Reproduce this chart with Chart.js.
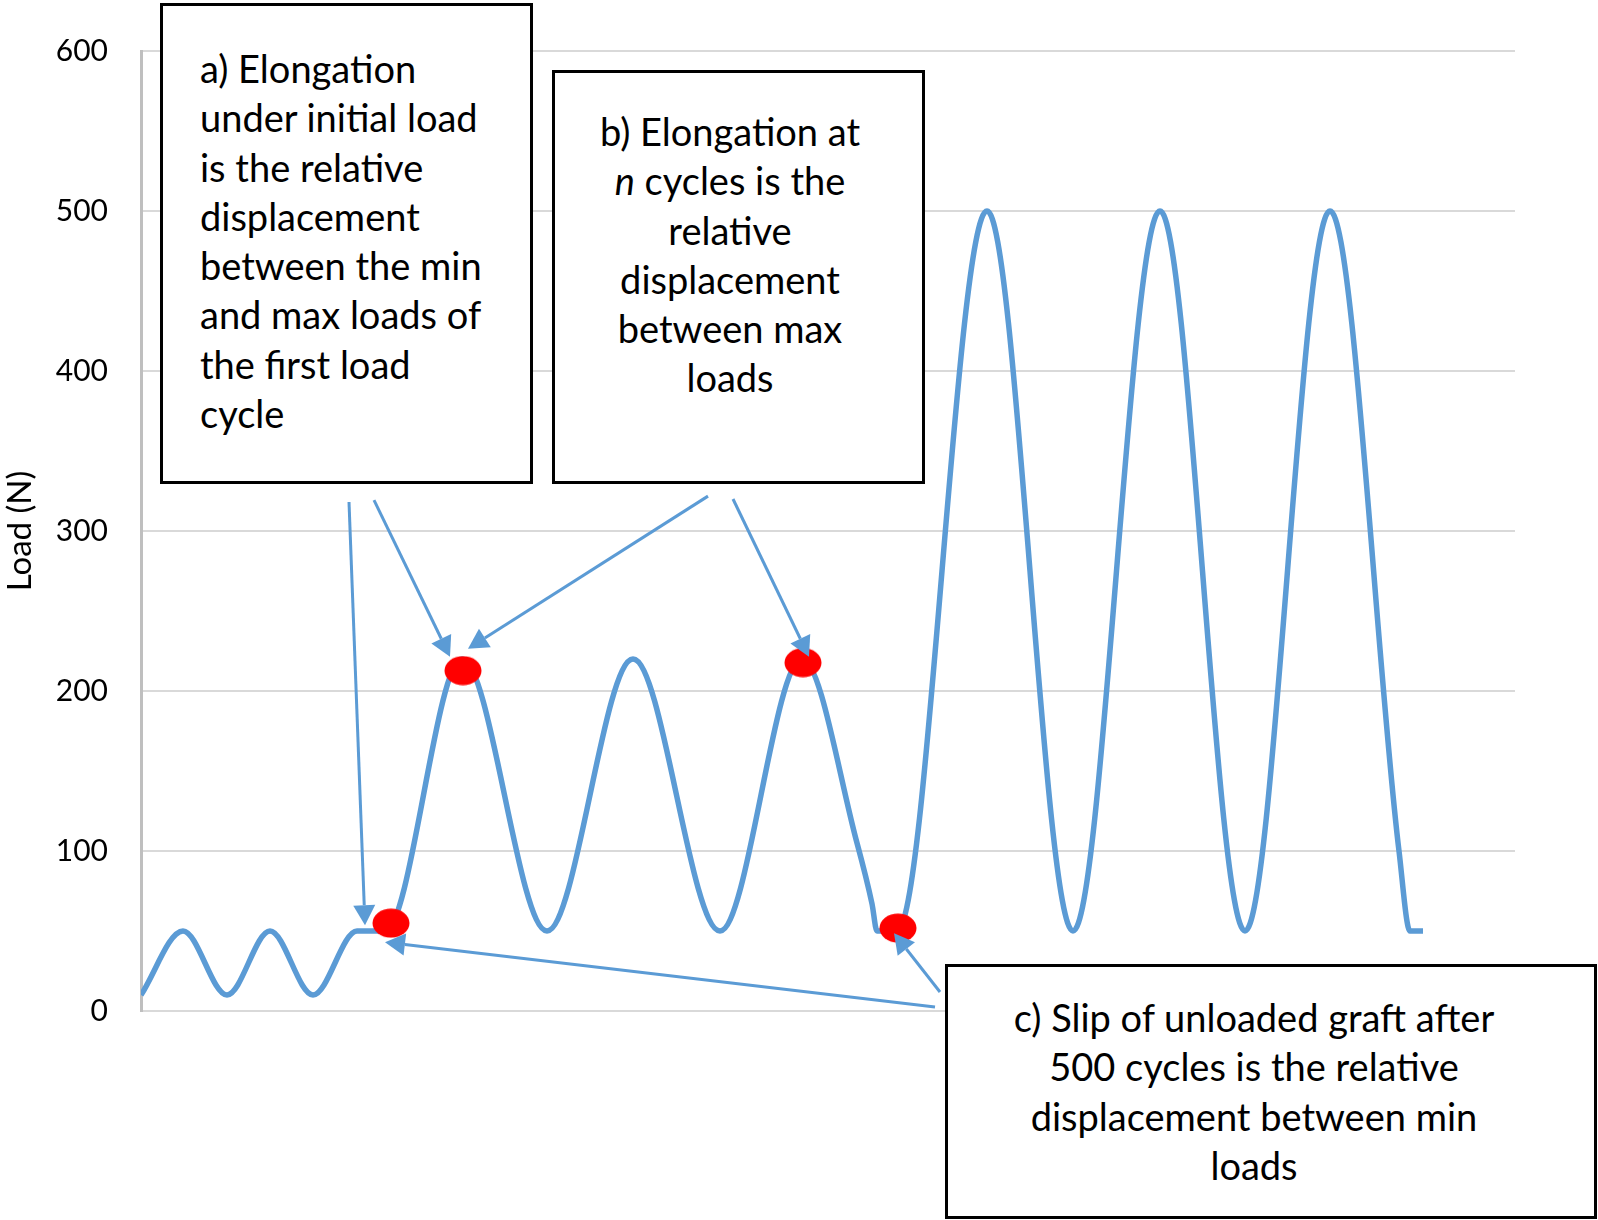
<!DOCTYPE html>
<html>
<head>
<meta charset="utf-8">
<script src="https://cdn.jsdelivr.net/npm/chart.js@4.4.1/dist/chart.umd.min.js"></script>
<style>
  html, body { margin: 0; padding: 0; background: #fff; }
  #wrap { position: relative; width: 1598px; height: 1220px; }
  .note {
    position: absolute;
    box-sizing: border-box;
    border: 3px solid #000;
    background: #fff;
    font-family: Lato, sans-serif;
    font-size: 38px;
    line-height: 49.3px;
    color: #000;
    white-space: nowrap;
  }
  #noteA { left: 160px; top: 3px; width: 373px; height: 481px; padding: 38px 0 0 37px; text-align: left; }
  #noteB { left: 552px; top: 70px; width: 373px; height: 414px; padding: 34px 25px 0 8px; text-align: center; }
  #noteC { left: 945px; top: 964px; width: 652px; height: 255px; padding: 26px 42px 0 8px; text-align: center; }
</style>
</head>
<body>
<div id="wrap">
  <canvas id="loadChart" width="1598" height="1220"></canvas>
  <div class="note" id="noteA">a) Elongation<br>under initial load<br>is the relative<br>displacement<br>between the min<br>and max loads of<br>the first load<br>cycle</div>
  <div class="note" id="noteB">b) Elongation at<br><i>n</i> cycles is the<br>relative<br>displacement<br>between max<br>loads</div>
  <div class="note" id="noteC">c) Slip of unloaded graft after<br>500 cycles is the relative<br>displacement between min<br>loads</div>
</div>
<script>
// Load trace (time in arbitrary units, load in N)
const time = [0, 4.2, 8.6, 12.9, 17.2, 21.6, 24.4, 32.1, 40.6, 49.2, 57.9,
    66.1, 71.6, 73.1, 73.6, 75.6, 84.6, 93.2, 101.9,
    110.4, 118.9, 125.8, 126.9, 128.2];
const load = [10, 50, 10, 50, 10, 50, 50, 220, 50, 220, 50,
    220, 105, 67, 50, 50, 500, 50, 500,
    50, 500, 100, 50, 50];

// Red markers
const markTime = [25.0, 32.2, 66.2, 75.7];
const markLoad = [54.9, 212.7, 217.7, 51.8];

// Annotation arrows (tail -> tip), in data units
const arrowFrom = [[20.8, 318.1], [23.3, 319.3], [56.7, 321.8], [59.2, 320.0], [79.4, 2.5], [79.9, 11.9]];
const arrowTo = [[22.4, 53.6], [30.9, 221.4], [32.7, 226.4], [66.8, 221.4], [24.4, 43.0], [75.3, 48.6]];

function makeDot() {
    const c = document.createElement('canvas');
    c.width = 38;
    c.height = 30;
    const g = c.getContext('2d');
    g.fillStyle = '#ff0000';
    g.beginPath();
    g.ellipse(19, 15, 18.5, 14.5, 0, 0, Math.PI * 2);
    g.fill();
    return c;
}

const arrowPlugin = {
    id: 'arrows',
    afterDatasetsDraw(chart) {
        const { ctx } = chart;
        const xs = chart.scales.x;
        const ys = chart.scales.y;
        ctx.save();
        ctx.strokeStyle = '#5b9bd5';
        ctx.fillStyle = '#5b9bd5';
        ctx.lineWidth = 3;
        for (let i = 0; i < arrowFrom.length; i++) {
            const x1 = xs.getPixelForValue(arrowFrom[i][0]);
            const y1 = ys.getPixelForValue(arrowFrom[i][1]);
            const x2 = xs.getPixelForValue(arrowTo[i][0]);
            const y2 = ys.getPixelForValue(arrowTo[i][1]);
            const ang = Math.atan2(y2 - y1, x2 - x1);
            const bx = x2 - 20 * Math.cos(ang);
            const by = y2 - 20 * Math.sin(ang);
            ctx.beginPath();
            ctx.moveTo(x1, y1);
            ctx.lineTo(bx, by);
            ctx.stroke();
            ctx.beginPath();
            ctx.moveTo(x2, y2);
            ctx.lineTo(bx + 11 * Math.sin(ang), by - 11 * Math.cos(ang));
            ctx.lineTo(bx - 11 * Math.sin(ang), by + 11 * Math.cos(ang));
            ctx.closePath();
            ctx.fill();
        }
        ctx.restore();
    }
};

const ctx = document.getElementById('loadChart').getContext('2d');
const chart = new Chart(ctx, {
    type: 'line',
    data: {
        datasets: [{
            data: markTime.map((t, i) => ({ x: t, y: markLoad[i] })),
            showLine: false,
            pointStyle: makeDot(),
            pointRadius: 18,
        }, {
            data: time.map((t, i) => ({ x: t, y: load[i] })),
            borderColor: '#5b9bd5',
            borderWidth: 5.5,
            pointRadius: 0,
            fill: false,
            cubicInterpolationMode: 'monotone',
        }],
    },
    options: {
        responsive: false,
        animation: false,
        events: [],
        layout: { padding: { left: 0, top: 49, right: 83, bottom: 209 } },
        plugins: { legend: { display: false }, tooltip: { enabled: false } },
        scales: {
            x: { type: 'linear', min: 0, max: 137.4, display: false },
            y: {
                min: 0,
                max: 600,
                ticks: { stepSize: 100, padding: 33, color: '#000', font: { family: 'Lato', size: 30 } },
                grid: { color: '#d9d9d9', lineWidth: 2, drawTicks: false },
                border: { color: '#bfbfbf', width: 3 },
                title: { display: true, text: 'Load (N)', color: '#000', padding: { top: 1, bottom: 0 }, font: { family: 'Lato', size: 33 } },
                afterFit(scale) { scale.width = 141; },
            },
        },
    },
    plugins: [arrowPlugin],
});
</script>
</body>
</html>
